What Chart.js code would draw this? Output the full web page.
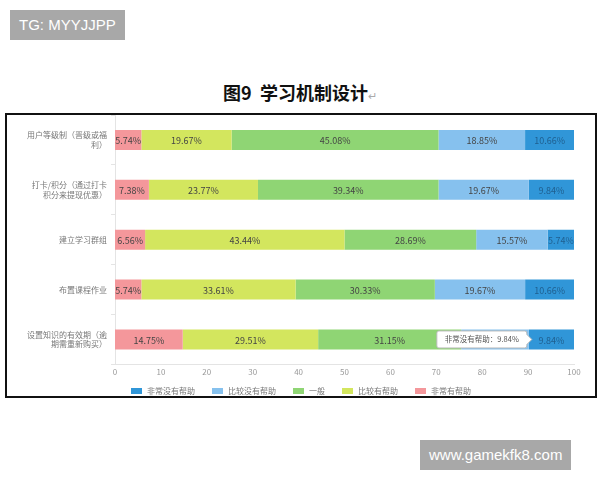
<!DOCTYPE html>
<html>
<head>
<meta charset="utf-8">
<script src="https://cdn.jsdelivr.net/npm/chart.js@4/dist/chart.umd.min.js"></script>
<style>
  body { margin: 0; background: #fff; width: 600px; height: 480px; position: relative; overflow: hidden; font-family: "Noto Sans CJK SC", sans-serif; }
  .mark { position: absolute; background: #a8a8a8; color: #fff; font-family: Arial, "Liberation Sans", sans-serif; font-size: 15px; line-height: 30px; padding: 0 9px; }
  #title { position: absolute; top: 79px; left: 0; width: 600px; text-align: center; font-size: 18px; font-weight: bold; color: #111; }
  #title span { color: #aaa; font-size: 11px; font-weight: normal; }
  #box { position: absolute; left: 5px; top: 113px; width: 588px; height: 281px; border: 2px solid #111; }
  #wrap { position: absolute; left: 0; top: 0; width: 588px; height: 281px; }
</style>
</head>
<body>
<div class="mark" style="left:10px;top:10px;">TG: MYYJJPP</div>
<div class="mark" style="left:420px;top:440px;">www.gamekfk8.com</div>
<div id="title">图9&nbsp; 学习机制设计<span>↵</span></div>
<div id="box"><div id="wrap"><canvas id="c"></canvas></div></div>
<script>
const categories = [
  ["用户等级制（晋级或福", "利）"],
  ["打卡/积分（通过打卡", "积分来提现优惠）"],
  "建立学习群组",
  "布置课程作业",
  ["设置知识的有效期（逾", "期需重新购买）"]
];
const veryHelpful = [5.74, 7.38, 6.56, 5.74, 14.75];
const helpful = [19.67, 23.77, 43.44, 33.61, 29.51];
const neutral = [45.08, 39.34, 28.69, 30.33, 31.15];
const notHelpful = [18.85, 19.67, 15.57, 19.67, 14.75];
const veryNotHelpful = [10.66, 9.84, 5.74, 10.66, 9.84];
const xTicks = [0, 10, 20, 30, 40, 50, 60, 70, 80, 90, 100];

const cjk = '"Noto Sans CJK SC", sans-serif';

Chart.Tooltip.positioners.barStart = function (items) {
  if (!items.length) return false;
  const el = items[0].element;
  return { x: el.base + 5, y: el.y };
};

// percentage text in the middle of every segment
const segLabels = {
  id: "segLabels",
  afterDatasetsDraw(chart) {
    const ctx = chart.ctx;
    ctx.save();
    ctx.font = "9px " + cjk;
    ctx.textAlign = "center";
    ctx.textBaseline = "middle";
    chart.data.datasets.forEach((ds, i) => {
      chart.getDatasetMeta(i).data.forEach((bar, j) => {
        ctx.fillStyle = i === 4 ? "#1f5f8f" : "#444";
        ctx.fillText(ds.data[j].toFixed(2) + "%", (bar.x + bar.base) / 2, bar.y + 1);
      });
    });
    ctx.restore();
  }
};

// one tight legend row at the bottom (built-in legend pads too much vertically)
const legendRow = {
  id: "legendRow",
  afterDraw(chart) {
    const ctx = chart.ctx;
    ctx.save();
    ctx.font = "8px " + cjk;
    ctx.textBaseline = "middle";
    const items = chart.data.datasets.slice().reverse();
    const box = 11, boxGap = 5, gap = 17;
    const widths = items.map(d => box + boxGap + ctx.measureText(d.label).width);
    const total = widths.reduce((a, b) => a + b, 0) + gap * (items.length - 1);
    let x = (chart.width - total) / 2;
    const y = chart.height - 5;
    items.forEach((d, i) => {
      ctx.fillStyle = d.backgroundColor;
      ctx.fillRect(x, y - 3, box, 6);
      ctx.fillStyle = "#777";
      ctx.fillText(d.label, x + box + boxGap, y);
      x += widths[i] + gap;
    });
    ctx.restore();
  }
};

const chart = new Chart(document.getElementById("c"), {
  type: "bar",
  data: {
    labels: categories,
    datasets: [
      { label: "非常有帮助", data: veryHelpful, backgroundColor: "#f4979b" },
      { label: "比较有帮助", data: helpful, backgroundColor: "#d3e65e" },
      { label: "一般", data: neutral, backgroundColor: "#8fd574" },
      { label: "比较没有帮助", data: notHelpful, backgroundColor: "#86c1ee" },
      { label: "非常没有帮助", data: veryNotHelpful, backgroundColor: "#3096d8" }
    ]
  },
  options: {
    indexAxis: "y",
    responsive: true,
    maintainAspectRatio: false,
    animation: false,
    categoryPercentage: 0.8,
    barPercentage: 0.5,
    layout: { padding: { left: 0, right: 21, top: 0, bottom: 16 } },
    scales: {
      x: {
        stacked: true,
        min: 0,
        max: 100,
        afterBuildTicks(scale) { scale.ticks = xTicks.map(v => ({ value: v })); },
        grid: { display: false, drawTicks: false },
        border: { color: "#e4e4e4" },
        ticks: { color: "#999", font: { size: 8, family: cjk }, padding: 3 }
      },
      y: {
        stacked: true,
        afterFit(scale) { scale.width = 108; scale.paddingTop = 0; scale.paddingBottom = 0; },
        grid: { drawOnChartArea: false, drawTicks: true, tickLength: 4, color: "#e4e4e4" },
        border: { color: "#e4e4e4" },
        ticks: { color: "#777", font: { size: 8, family: cjk }, padding: 4 }
      }
    },
    plugins: {
      legend: { display: false },
      tooltip: {
        enabled: true,
        position: "barStart",
        xAlign: "right",
        yAlign: "center",
        backgroundColor: "#fff",
        borderColor: "#bbb",
        borderWidth: 1,
        bodyColor: "#555",
        bodyFont: { size: 7.5, family: cjk },
        padding: { left: 8, right: 8, top: 4, bottom: 4 },
        caretSize: 5,
        cornerRadius: 2,
        displayColors: false,
        callbacks: {
          title: () => "",
          label: (item) => item.dataset.label + "：" + item.raw.toFixed(2) + "%"
        }
      }
    }
  },
  plugins: [segLabels, legendRow]
});

chart.tooltip.setActiveElements([{ datasetIndex: 4, index: 4 }], { x: 0, y: 0 });
chart.update();
</script>
</body>
</html>
